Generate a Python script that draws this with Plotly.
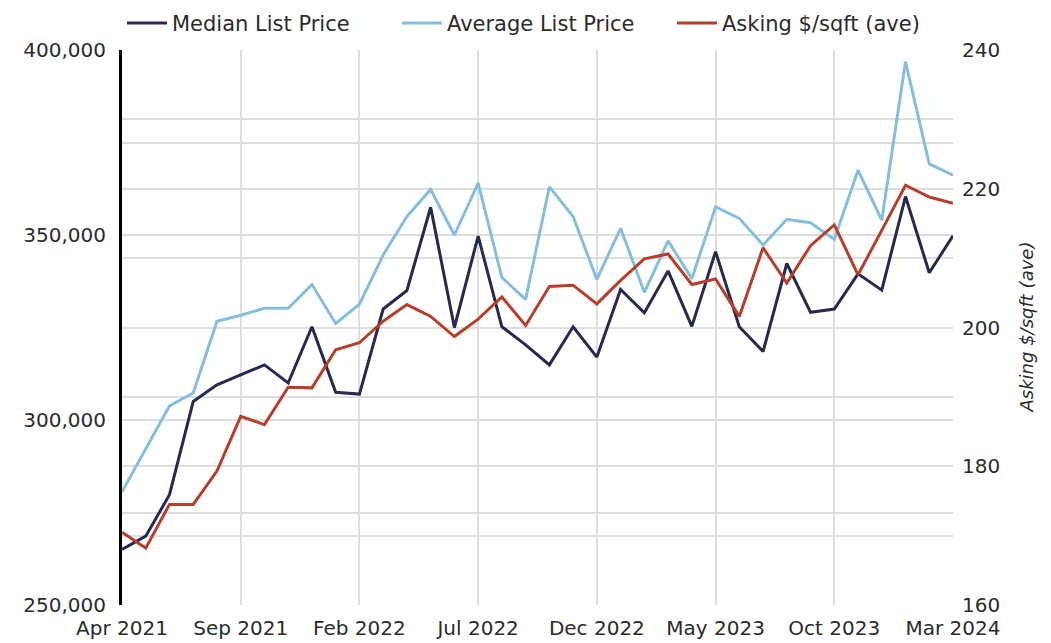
import plotly.graph_objects as go

months = [
    "Apr 2021", "May 2021", "Jun 2021", "Jul 2021", "Aug 2021", "Sep 2021",
    "Oct 2021", "Nov 2021", "Dec 2021", "Jan 2022", "Feb 2022", "Mar 2022",
    "Apr 2022", "May 2022", "Jun 2022", "Jul 2022", "Aug 2022", "Sep 2022",
    "Oct 2022", "Nov 2022", "Dec 2022", "Jan 2023", "Feb 2023", "Mar 2023",
    "Apr 2023", "May 2023", "Jun 2023", "Jul 2023", "Aug 2023", "Sep 2023",
    "Oct 2023", "Nov 2023", "Dec 2023", "Jan 2024", "Feb 2024", "Mar 2024",
]

median_list_price = [
    265000, 268600, 279800, 305000, 309500, 312200, 314900, 310000, 325200,
    307500, 307000, 330000, 335000, 357500, 325000, 349700, 325200, 320300,
    314900, 325200, 317000, 335300, 329000, 340300, 325300, 345500, 325200,
    318500, 342300, 329100, 330000, 339500, 335100, 360400, 339800, 349800,
]

average_list_price = [
    280600, 292300, 303800, 307300, 326700, 328300, 330200, 330200, 336600,
    326100, 331300, 344600, 355000, 362300, 350000, 364000, 338500, 332600,
    363000, 355000, 338000, 351800, 334500, 348400, 338200, 357600, 354500,
    347300, 354200, 353300, 348800, 367500, 354000, 396800, 369200, 366200,
]

asking_psf = [
    170.5, 168.2, 174.5, 174.5, 179.3, 187.2, 186.0, 191.4, 191.3,
    196.8, 197.8, 200.9, 203.3, 201.6, 198.7, 201.2, 204.4, 200.3,
    205.9, 206.1, 203.4, 206.8, 209.9, 210.6, 206.2, 207.0, 201.6,
    211.5, 206.4, 211.8, 214.8, 207.6, 214.0, 220.5, 218.8, 217.9,
]

tick_labels = ["Apr 2021", "Sep 2021", "Feb 2022", "Jul 2022",
               "Dec 2022", "May 2023", "Oct 2023", "Mar 2024"]

FONT = "DejaVu Sans"
TXT = "#2b2b2b"
GRID = "#dedede"

fig = go.Figure()
fig.add_trace(go.Scatter(x=months, y=median_list_price, name="Median List Price",
                         mode="lines", line=dict(color="#272a4e", width=3)))
fig.add_trace(go.Scatter(x=months, y=average_list_price, name="Average List Price",
                         mode="lines", line=dict(color="#86bedb", width=3)))
fig.add_trace(go.Scatter(x=months, y=asking_psf, name="Asking $/sqft (ave)",
                         mode="lines", line=dict(color="#b43f2c", width=3),
                         yaxis="y2"))

fig.update_layout(
    width=1035, height=635,
    margin=dict(l=114, r=90, t=42, b=38, autoexpand=False),
    paper_bgcolor="white", plot_bgcolor="white",
    font=dict(family=FONT, size=20, color=TXT),
    showlegend=True,
    legend=dict(orientation="h", x=0.0, xanchor="left", y=1.048, yanchor="middle",
                font=dict(family=FONT, size=21, color=TXT),
                itemwidth=40, entrywidthmode="pixels", entrywidth=220,
                bgcolor="rgba(0,0,0,0)"),
    xaxis=dict(
        type="category", range=[0, 35],
        tickmode="array", tickvals=tick_labels, ticktext=tick_labels,
        showgrid=True, gridcolor=GRID, gridwidth=2,
        showline=False, zeroline=False,
        ticks="outside", ticklen=5, tickcolor="rgba(0,0,0,0)",
        tickfont=dict(family=FONT, size=20, color=TXT),
    ),
    yaxis=dict(
        range=[250000, 400000], tickmode="linear", tick0=250000, dtick=50000,
        tickformat=",",
        showgrid=True, gridcolor=GRID, gridwidth=2,
        minor=dict(dtick=25000, tick0=250000, showgrid=True, gridcolor=GRID, gridwidth=2),
        showline=True, linecolor="black", linewidth=3,
        zeroline=False,
        ticks="outside", ticklen=9, tickcolor="rgba(0,0,0,0)",
        tickfont=dict(family=FONT, size=20, color=TXT),
    ),
    yaxis2=dict(
        overlaying="y", side="right",
        range=[160, 240], tickmode="linear", tick0=160, dtick=20,
        showgrid=True, gridcolor=GRID, gridwidth=2,
        minor=dict(dtick=10, tick0=160, showgrid=True, gridcolor=GRID, gridwidth=2),
        showline=False, zeroline=False,
        ticks="outside", ticklen=4, tickcolor="rgba(0,0,0,0)",
        tickfont=dict(family=FONT, size=20, color=TXT),
    ),
    annotations=[dict(
        text="<i>Asking $/sqft (ave)</i>", textangle=-90,
        xref="paper", yref="paper", x=1.0, xshift=73, y=0.5,
        xanchor="center", yanchor="middle", showarrow=False,
        font=dict(family=FONT, size=18, color=TXT),
    )],
)

fig.write_html("out.html")
